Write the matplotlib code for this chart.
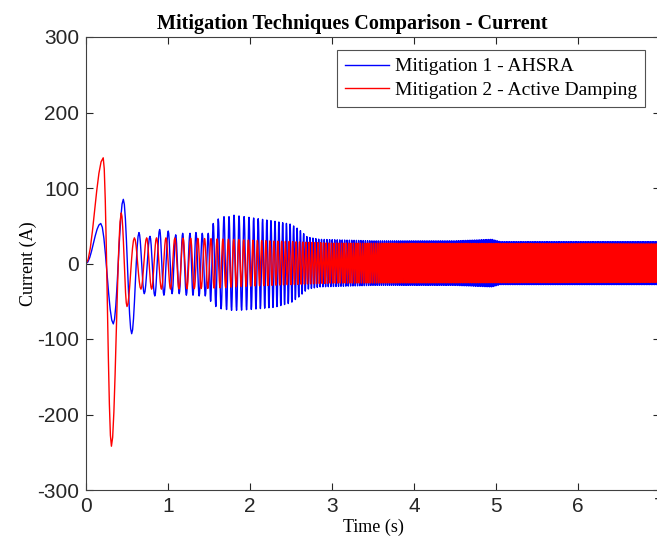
import numpy as np
import matplotlib
matplotlib.use('Agg')
import matplotlib.pyplot as plt

plt.rcParams['axes.unicode_minus'] = False

# Mitigation 1 - AHSRA: early extremes (time s, current A)
blue_peak_t = [0, 0.18, 0.333, 0.455, 0.557, 0.646, 0.711, 0.78, 0.839, 0.898, 0.95, 1.003,
               1.05, 1.094, 1.137, 1.179, 1.224, 1.268, 1.305, 1.341, 1.38, 1.418, 1.455,
               1.491, 1.52, 1.552, 1.583, 1.613, 1.648, 1.683, 1.714, 1.744, 1.775, 1.805,
               1.836, 1.866]
blue_peak_v = [0, 53, -80, 85, -93, 41, -40, 36, -43, 45, -42, 43,
               -40, 38, -40, 40, -42, 40, -42, 41, -43, 40, -43,
               40, -50, 53, -57, 59, -60, 62, -61, 62, -62, 64,
               -62, 63]
# later part: envelope and oscillation rate
blue_env_t = [1.87, 2.0, 2.3, 2.5, 2.6, 2.7, 2.85, 3.5, 4.5, 4.95, 5.05, 7.0]
blue_env_hi = [63, 61, 56, 52, 45, 35, 32, 30, 30, 32, 29, 29]
blue_env_lo = [-62, -61, -58, -52, -44, -34, -31, -29, -29, -31, -28, -28]
blue_freq_t = [1.87, 2.5, 3.0, 4.0, 7.0]
blue_freq_hz = [16, 23, 32, 45, 50]

# Mitigation 2 - Active Damping
red_peak_t = [0, 0.21, 0.31, 0.43, 0.50, 0.59, 0.67, 0.74, 0.80, 0.86, 0.92, 0.975]
red_peak_v = [0, 140, -242, 67, -57, 34, -34, 34, -34, 34, -34, 34]
red_env_t = [0.975, 1.5, 2.0, 2.5, 3.0, 7.0]
red_env_hi = [34, 33, 31, 29, 27, 26]
red_env_lo = [-34, -33, -30, -28, -26, -25]
red_freq_t = [0.975, 1.5, 2.0, 2.5, 3.0, 4.0, 7.0]
red_freq_hz = [9, 13, 18, 23, 32, 45, 50]

t_end = 7.0


def extend_peaks(pt, pv, env_t, hi, lo, f_t, f_hz):
    pt = list(pt)
    pv = list(pv)
    up = pv[-1] < 0
    while pt[-1] < t_end:
        t = pt[-1] + 0.5 / np.interp(pt[-1], f_t, f_hz)
        pt.append(t)
        pv.append(np.interp(t, env_t, hi) if up else np.interp(t, env_t, lo))
        up = not up
    return pt, pv


def waveform(pt, pv, n=8):
    tt, vv = [], []
    s = np.linspace(0, 1, n, endpoint=False)
    for i in range(len(pt) - 1):
        tt.append(pt[i] + (pt[i + 1] - pt[i]) * s)
        vv.append(pv[i] + (pv[i + 1] - pv[i]) * (1 - np.cos(np.pi * s)) / 2)
    return np.concatenate(tt), np.concatenate(vv)


bt, bv = waveform(*extend_peaks(blue_peak_t, blue_peak_v, blue_env_t, blue_env_hi,
                                blue_env_lo, blue_freq_t, blue_freq_hz))
rt, rv = waveform(*extend_peaks(red_peak_t, red_peak_v, red_env_t, red_env_hi,
                                red_env_lo, red_freq_t, red_freq_hz))

serif = 'Liberation Serif'
fig = plt.figure(figsize=(6.57, 5.41), dpi=100)
ax = fig.add_axes([86 / 657, 1 - 490 / 541, 574 / 657, 453 / 541])

ax.plot(bt, bv, color='#0000ff', lw=1.0, label='Mitigation 1 - AHSRA')
ax.plot(rt, rv, color='#ff0000', lw=1.0, label='Mitigation 2 - Active Damping')

ax.set_xlim(0, 7)
ax.set_ylim(-300, 300)
ax.set_xticks(range(0, 8))
ax.set_yticks(range(-300, 301, 100))
ax.tick_params(direction='in', top=True, right=True, length=5, width=0.8,
               labelsize=15, colors='#262626', pad=5)
for lab in ax.get_xticklabels() + ax.get_yticklabels():
    lab.set_fontfamily('Liberation Sans')
for sp in ax.spines.values():
    sp.set_color('#404040')
    sp.set_linewidth(0.8)

ax.set_title('Mitigation Techniques Comparison - Current', fontfamily=serif,
             fontweight='bold', fontsize=14.5, pad=6, x=(352 - 86) / 574)
ax.set_xlabel('Time (s)', fontfamily=serif, fontsize=13, labelpad=2)
ax.set_ylabel('Current (A)', fontfamily=serif, fontsize=13, labelpad=0)

leg = ax.legend(loc='upper right', bbox_to_anchor=((645 - 86) / 574, (490 - 50) / 453),
                borderaxespad=0, prop={'family': serif, 'size': 14}, frameon=True,
                fancybox=False, handlelength=2.3, borderpad=0.4, labelspacing=0.3,
                handletextpad=0.3)
leg.get_frame().set_edgecolor('#262626')
leg.get_frame().set_linewidth(0.8)

fig.savefig('out.png', dpi=100)
